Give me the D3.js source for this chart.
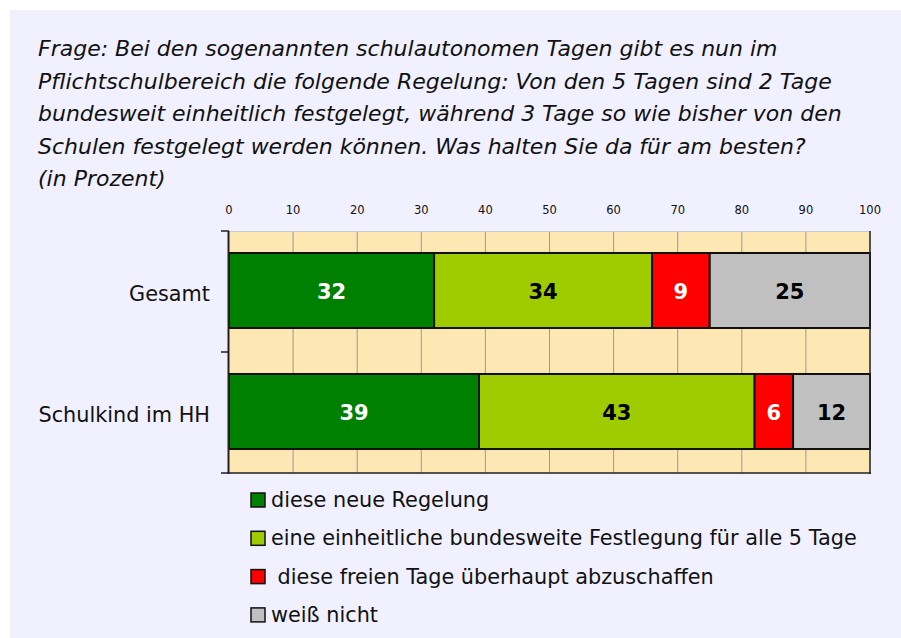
<!DOCTYPE html>
<html>
<head>
<meta charset="utf-8">
<script src="https://cdn.jsdelivr.net/npm/d3@7"></script>
<style>
  body { margin: 0; background: #fff; }
  svg { display: block; }
</style>
</head>
<body>
<svg id="chart" width="901" height="638"></svg>
<script>
// data
const categories = ['Gesamt', 'Schulkind im HH'];
const seriesNames = [
  'diese neue Regelung',
  'eine einheitliche bundesweite Festlegung für alle 5 Tage',
  ' diese freien Tage überhaupt abzuschaffen',
  'weiß nicht'
];
const neueRegelung = [32, 39];
const einheitlich = [34, 43];
const abschaffen = [9, 6];
const weissNicht = [25, 12];
const xTicks = [0, 10, 20, 30, 40, 50, 60, 70, 80, 90, 100];
const titleLines = [
  'Frage: Bei den sogenannten schulautonomen Tagen gibt es nun im',
  'Pflichtschulbereich die folgende Regelung: Von den 5 Tagen sind 2 Tage',
  'bundesweit einheitlich festgelegt, während 3 Tage so wie bisher von den',
  'Schulen festgelegt werden können. Was halten Sie da für am besten?',
  '(in Prozent)'
];

const colors = ['#008000', '#9fcc00', '#ff0000', '#c0c0c0'];
const labelColors = ['#fff', '#000', '#fff', '#000'];
const font = '"DejaVu Sans", "Open Sans", sans-serif';

const svg = d3.select('#chart');

svg.append('rect')
  .attr('x', 10).attr('y', 10)
  .attr('width', 891).attr('height', 628)
  .attr('fill', '#f0f0fe');

// title
svg.append('g')
  .selectAll('text')
  .data(titleLines)
  .enter()
  .append('text')
  .attr('x', 38)
  .attr('y', (d, i) => 56 + i * 32.5)
  .attr('font-family', font)
  .attr('font-style', 'italic')
  .attr('font-size', 22)
  .attr('fill', '#111')
  .text(d => d);

const x = d3.scaleLinear().domain([0, 100]).range([229, 870]);
const y = d3.scaleBand().domain(categories).range([231, 473])
  .paddingInner(0.38).paddingOuter(0.19);

// plot background
svg.append('rect')
  .attr('x', x(0)).attr('y', 231)
  .attr('width', x(100) - x(0)).attr('height', 242)
  .attr('fill', '#fde8b3');

// gridlines
svg.append('g')
  .selectAll('line')
  .data(xTicks.slice(1, -1))
  .enter()
  .append('line')
  .attr('x1', d => x(d)).attr('x2', d => x(d))
  .attr('y1', 231).attr('y2', 473)
  .attr('stroke', '#999')
  .attr('stroke-width', 1);

svg.append('line')
  .attr('x1', x(0)).attr('x2', x(100))
  .attr('y1', 231.5).attr('y2', 231.5)
  .attr('stroke', '#c8c8d8');

// top tick labels
svg.append('g')
  .selectAll('text')
  .data(xTicks)
  .enter()
  .append('text')
  .attr('x', d => x(d))
  .attr('y', 214)
  .attr('text-anchor', 'middle')
  .attr('font-family', font)
  .attr('font-size', 11.5)
  .attr('fill', '#111')
  .text(d => d);

// stacked bars
const rows = categories.map((c, i) => ({
  cat: c,
  values: [neueRegelung[i], einheitlich[i], abschaffen[i], weissNicht[i]]
}));
const segs = [];
rows.forEach(r => {
  let acc = 0;
  r.values.forEach((v, k) => {
    segs.push({ cat: r.cat, k: k, x0: acc, x1: acc + v, v: v });
    acc += v;
  });
});

const bars = svg.append('g');
bars.selectAll('rect')
  .data(segs)
  .enter()
  .append('rect')
  .attr('x', d => x(d.x0))
  .attr('y', d => y(d.cat) - 1)
  .attr('width', d => x(d.x1) - x(d.x0))
  .attr('height', y.bandwidth())
  .attr('fill', d => colors[d.k])
  .attr('stroke', '#111')
  .attr('stroke-width', 2);

bars.selectAll('text')
  .data(segs)
  .enter()
  .append('text')
  .attr('x', d => x((d.x0 + d.x1) / 2))
  .attr('y', d => y(d.cat) + y.bandwidth() / 2 + 7)
  .attr('text-anchor', 'middle')
  .attr('font-family', font)
  .attr('font-weight', 'bold')
  .attr('font-size', 21)
  .attr('fill', d => labelColors[d.k])
  .text(d => d.v);

// axes frame: left, right, bottom
svg.append('line')
  .attr('x1', x(0) - 0.5).attr('x2', x(0) - 0.5)
  .attr('y1', 231).attr('y2', 474)
  .attr('stroke', '#222').attr('stroke-width', 2);
svg.append('line')
  .attr('x1', x(100)).attr('x2', x(100))
  .attr('y1', 231).attr('y2', 474)
  .attr('stroke', '#222').attr('stroke-width', 1.5);
svg.append('line')
  .attr('x1', x(0) - 1).attr('x2', x(100) + 1)
  .attr('y1', 473).attr('y2', 473)
  .attr('stroke', '#222').attr('stroke-width', 1.5);

// left category ticks at band boundaries
const boundaries = [231].concat(categories.map(c => y(c) + y.bandwidth() + y.step() * y.paddingOuter()));
svg.append('g')
  .selectAll('line')
  .data(boundaries)
  .enter()
  .append('line')
  .attr('x1', x(0) - 8).attr('x2', x(0))
  .attr('y1', d => d).attr('y2', d => d)
  .attr('stroke', '#222').attr('stroke-width', 1.5);

// category labels
svg.append('g')
  .selectAll('text')
  .data(categories)
  .enter()
  .append('text')
  .attr('x', 210)
  .attr('y', d => y(d) + y.bandwidth() / 2 + 9)
  .attr('text-anchor', 'end')
  .attr('font-family', font)
  .attr('font-size', 20.8)
  .attr('fill', '#111')
  .text(d => d);

// legend
const legend = svg.append('g')
  .selectAll('g')
  .data(seriesNames)
  .enter()
  .append('g')
  .attr('transform', (d, i) => `translate(251, ${500 + i * 38.3})`);

legend.append('rect')
  .attr('x', 0).attr('y', -7)
  .attr('width', 14).attr('height', 14)
  .attr('fill', (d, i) => colors[i])
  .attr('stroke', '#111')
  .attr('stroke-width', 1.5);

legend.append('text')
  .attr('x', 20)
  .attr('y', 7)
  .attr('font-family', font)
  .attr('font-size', 20.8)
  .attr('fill', '#111')
  .attr('xml:space', 'preserve')
  .style('white-space', 'pre')
  .text(d => d);
</script>
</body>
</html>
